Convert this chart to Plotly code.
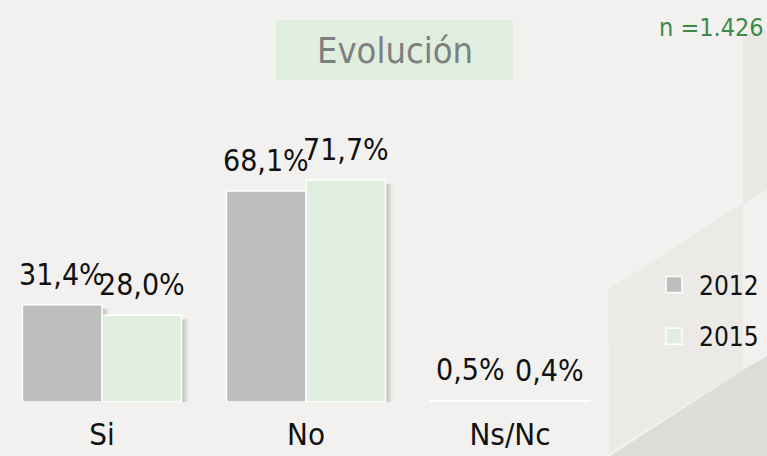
import plotly.graph_objects as go

categories = ["Si", "No", "Ns/Nc"]
years = ["2012", "2015"]
values_2012 = [31.4, 68.1, 0.5]
values_2015 = [28.0, 71.7, 0.4]
labels_2012 = ["31,4%", "68,1%", "0,5%"]
labels_2015 = ["28,0%", "71,7%", "0,4%"]
colors = ["#bebebe", "#e0eee0"]

FONT = "DejaVu Sans Condensed, Liberation Sans Narrow, Roboto, sans-serif"

W, H = 767, 456
L, R, T, B = 0, 155, 100, 54
pw, ph = W - L - R, H - T - B
PX_PER_UNIT_X = pw / 3.0
PX_PER_PCT = 3.1
BW = 0.39

def px(x):
    return (x - L) / pw

def py(y):
    return (H - B - y) / ph

series = [
    (years[0], values_2012, labels_2012, colors[0], -BW),
    (years[1], values_2015, labels_2015, colors[1], 0.0),
]

fig = go.Figure()

# soft drop shadows (drawn first, behind the bars)
for name, vals, labs, col, off in series:
    for dx, alpha in [(7, 0.05), (5, 0.08), (3, 0.12)]:
        drop = 4 / PX_PER_PCT
        fig.add_trace(go.Bar(
            x=categories, y=[max(v - drop, 0) for v in vals],
            width=BW, offset=off + dx / PX_PER_UNIT_X,
            showlegend=False, hoverinfo="skip",
            marker=dict(color=f"rgba(60,60,60,{alpha})", line=dict(width=0)),
        ))

annotations = []
for i, (name, vals, labs, col, off) in enumerate(series):
    fig.add_trace(go.Bar(
        x=categories, y=vals, name=name, showlegend=False,
        width=BW, offset=off,
        marker=dict(color=col, line=dict(color="#ffffff", width=1.5)),
    ))
    for c, v, t in zip(categories, vals, labs):
        annotations.append(dict(
            x=c, y=v, text=t, xref="x", yref="y", showarrow=False,
            xanchor="center", yanchor="bottom",
            xshift=(off + BW / 2) * PX_PER_UNIT_X, yshift=11,
            font=dict(family=FONT, size=30, color="#111111"),
        ))

# legend entries (square swatches)
for name, col in zip(years, colors):
    fig.add_trace(go.Scatter(
        x=[None], y=[None], mode="markers", name=name, legendgroup=name,
        marker=dict(symbol="square", size=16, color=col,
                    line=dict(color="#ffffff", width=1.5)),
    ))

def poly(pts, color):
    path = "M " + " L ".join(f"{px(x)},{py(y)}" for x, y in pts) + " Z"
    return dict(type="path", xref="paper", yref="paper", path=path,
                fillcolor=color, line=dict(width=0), layer="below")

shapes = [
    poly([(743, 35), (767, 30), (767, 190), (743, 203)], "#e9e8e4"),
    poly([(608, 290), (743, 203), (743, 370), (610, 452)], "#ebeae6"),
    poly([(610, 456), (743, 370), (767, 356), (767, 456)], "#dedcd9"),
    dict(type="rect", xref="paper", yref="paper",
         x0=px(276), x1=px(513), y0=py(80), y1=py(20),
         fillcolor="#e0eee0", line=dict(width=0), layer="below"),
]

annotations += [
    dict(text="Evolución", x=px(395), y=py(50), xref="paper", yref="paper",
         xanchor="center", yanchor="middle", showarrow=False,
         font=dict(family=FONT, size=36, color="#7f7f7f")),
    dict(text="n =1.426", x=px(766), y=py(28), xref="paper", yref="paper",
         xanchor="right", yanchor="middle", showarrow=False,
         font=dict(family=FONT, size=25, color="#3a8a4a")),
]

fig.update_layout(
    width=W, height=H,
    margin=dict(l=L, r=R, t=T, b=B, autoexpand=False),
    paper_bgcolor="#f2f1ef", plot_bgcolor="rgba(0,0,0,0)",
    barmode="overlay",
    showlegend=True,
    legend=dict(x=px(649), y=py(261), xanchor="left", yanchor="top",
                font=dict(family=FONT, size=26, color="#111111"),
                bgcolor="rgba(0,0,0,0)", itemwidth=40,
                tracegroupgap=15),
    shapes=shapes,
    annotations=annotations,
    xaxis=dict(range=[-0.5, 2.5], showgrid=False, zeroline=False, showline=False,
               automargin=False, fixedrange=True,
               ticks="outside", ticklen=5, tickcolor="rgba(0,0,0,0)",
               tickfont=dict(family=FONT, size=31, color="#111111")),
    yaxis=dict(range=[0, ph / PX_PER_PCT], visible=False, showgrid=False,
               zeroline=False, automargin=False, fixedrange=True),
)

fig.write_html("out.html", config={"displayModeBar": False},
               post_script="document.body.style.margin='0';")
